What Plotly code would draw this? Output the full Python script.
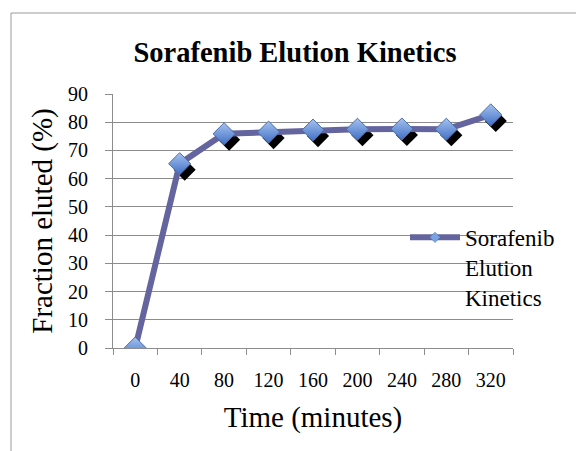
import plotly.graph_objects as go

categories = ["0", "40", "80", "120", "160", "200", "240", "280", "320"]
fraction_eluted = [0, 65.3, 75.9, 76.5, 77.2, 77.5, 77.6, 77.5, 82.6]
y_ticks = [0, 10, 20, 30, 40, 50, 60, 70, 80, 90]
series_name = "Sorafenib<br>Elution<br>Kinetics"

FONT = "Liberation Serif"
GRID = "#8c8c8c"
LINE_COLOR = "#64649e"

# plot-area geometry (px)
L, R, T, B = 113, 63, 94, 103
W, H = 576, 451
pw, ph = W - L - R, H - T - B
ncat = len(categories)
dx_px, dy_px = 5, 6  # shadow offset
dx = dx_px / (pw / ncat)
dy = dy_px / (ph / 90)

fig = go.Figure()

# shadow diamonds (main axes, shifted range)
fig.add_trace(go.Scatter(
    x=categories, y=fraction_eluted, mode="markers",
    marker=dict(symbol="diamond", size=17, color="black", line=dict(width=0)),
    showlegend=False, hoverinfo="skip", xaxis="x", yaxis="y",
))

# main series
fig.add_trace(go.Scatter(
    x=categories, y=fraction_eluted, mode="lines+markers", name=series_name,
    line=dict(color=LINE_COLOR, width=6),
    marker=dict(symbol="diamond", size=17, color="#a6c2f0",
                gradient=dict(type="vertical", color="#3f70c4"),
                line=dict(color="#4d6fa8", width=1)),
    showlegend=False, xaxis="x2", yaxis="y2",
))

# legend entry (small marker as in the original legend)
fig.add_trace(go.Scatter(
    x=[None], y=[None], mode="lines+markers", name=series_name,
    line=dict(color=LINE_COLOR, width=6),
    marker=dict(symbol="diamond", size=8, color="#7aa3e6",
                line=dict(color="#4d6fa8", width=0.5)),
    xaxis="x2", yaxis="y2",
))

fig.update_layout(
    width=W, height=H,
    margin=dict(l=L, r=R, t=T, b=B),
    paper_bgcolor="white", plot_bgcolor="rgba(0,0,0,0)",
    font=dict(family=FONT, color="black"),
    title=dict(text="<b>Sorafenib Elution Kinetics</b>", font=dict(size=28.5, family=FONT),
               x=295 / W, xanchor="center", xref="container",
               y=1 - 52.5 / H, yanchor="middle", yref="container"),
    xaxis=dict(type="category", categoryorder="array", categoryarray=categories,
               range=[-0.5 - dx, ncat - 0.5 - dx], visible=False, fixedrange=True,
               automargin=False),
    yaxis=dict(range=[0 + dy, 90 + dy], visible=False, fixedrange=True, automargin=False),
    xaxis2=dict(type="category", categoryorder="array", categoryarray=categories,
                overlaying="x", anchor="y2", side="bottom", automargin=False,
                range=[-0.5, ncat - 0.5], showgrid=False, zeroline=False,
                showline=True, linecolor=GRID, linewidth=1,
                ticks="outside", tickson="boundaries", ticklen=6, tickcolor=GRID,
                tickfont=dict(size=20, family=FONT), ticklabelstandoff=14,
                title=dict(text="Time (minutes)", font=dict(size=29, family=FONT), standoff=16)),
    yaxis2=dict(overlaying="y", anchor="x2", side="left", automargin=False,
                range=[0, 90], tickvals=y_ticks, showgrid=True, gridcolor=GRID, gridwidth=1,
                zeroline=False, showline=True, linecolor=GRID, linewidth=1,
                ticks="outside", ticklen=7, tickcolor=GRID,
                tickfont=dict(size=20, family=FONT), ticklabelstandoff=13,
                title=dict(text="Fraction eluted (%)", font=dict(size=29, family=FONT), standoff=6)),
    legend=dict(x=0.73, y=0.52, xanchor="left", yanchor="top", xref="paper", yref="paper",
                bgcolor="rgba(0,0,0,0)", font=dict(size=23, family=FONT), valign="top",
                itemwidth=50, tracegroupgap=0),
    shapes=[dict(type="rect", xref="paper", yref="paper",
                 x0=(11 - L) / pw, x1=(590 - L) / pw,
                 y0=(H - B - 13) / ph, y1=(H - B - 470) / ph,
                 line=dict(color="#9a9a9a", width=1), fillcolor="rgba(0,0,0,0)", layer="below")],
)

fig.write_html("out.html", config={"displayModeBar": False},
               post_script="document.body.style.margin='0px';")
